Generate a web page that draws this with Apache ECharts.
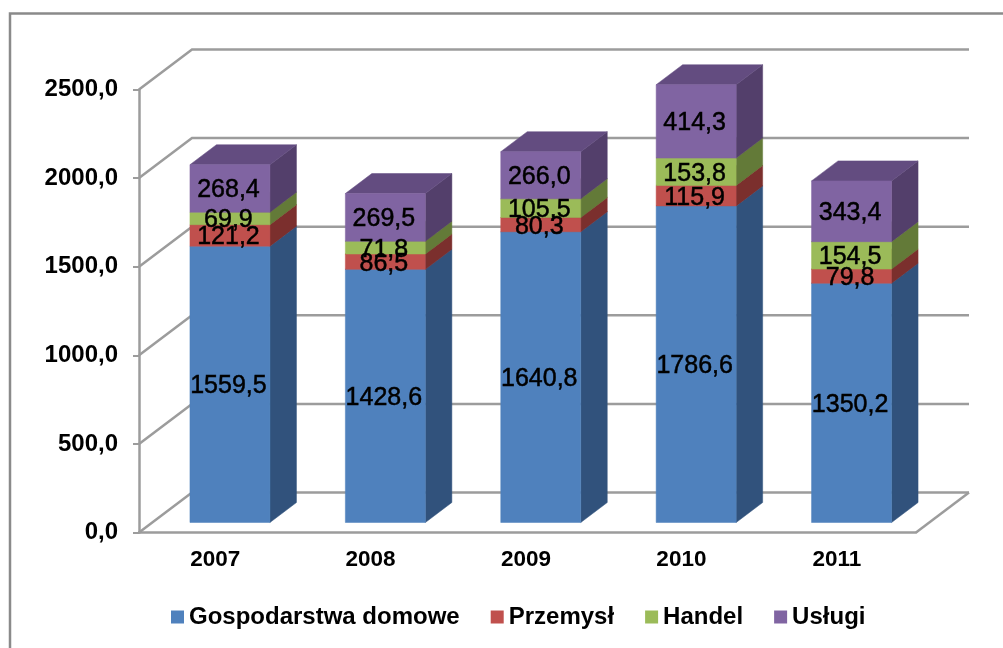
<!DOCTYPE html>
<html><head><meta charset="utf-8">
<style>html,body{margin:0;padding:0;background:#fff;overflow:hidden}#c{width:1003px;height:648px;filter:blur(0.5px)}</style>
<script src="https://cdn.jsdelivr.net/npm/echarts@6/dist/echarts.min.js"></script>
</head><body><div id="c"></div>
<script>
const categories = ['2007','2008','2009','2010','2011'];
const gospodarstwa = [1559.5,1428.6,1640.8,1786.6,1350.2];
const przemysl = [121.2,86.5,80.3,115.9,79.8];
const handel = [69.9,71.8,105.5,153.8,154.5];
const uslugi = [268.4,269.5,266.0,414.3,343.4];
const yTicks = [0,500,1000,1500,2000,2500];
const seriesNames = ['Gospodarstwa domowe','Przemysł','Handel','Usługi'];
const seriesValues = [gospodarstwa,przemysl,handel,uslugi];
const front = ['#4f81bd','#c0504d','#9bbb59','#8064a2'];
const side = ['#31527c','#7b2f2d','#637a38','#533f6b'];
const topFace = ['#3c6496','#953d3a','#7a9346','#634c80'];

const DX = 53, DY = 40;           // depth of the 3D box
const BAR_FRAC = 80/155.4;        // bar width / category band
const fmt = v => v.toFixed(1).replace('.',',');
const GRID_COLOR = '#9c9c9c';
const FONT = '"Liberation Sans", Arial, sans-serif';

const chart = echarts.init(document.getElementById('c'), null, {renderer:'canvas'});

function line(pts){
  return {type:'polyline', shape:{points:pts}, style:{stroke:GRID_COLOR, lineWidth:2.5, fill:null}, silent:true};
}
function wallItem(params, api){
  const v = api.value(0);
  const c = params.coordSys;
  const y = api.coord([0, v])[1];
  const left = c.x, right = c.x + c.width;
  const kids = [line([[left,y],[left+DX,y-DY],[right+DX,y-DY]])];
  if (v === 0) kids.push(line([[right,y],[right+DX,y-DY]]));
  return {type:'group', children:kids};
}
function barItem(si){
  return function(params, api){
    const i = api.value(0), lo = api.value(1), hi = api.value(2), raw = api.value(3);
    const band = api.size([1,0])[0];
    const w = band*BAR_FRAC;
    const ox = DX/4, oy = DY/4;
    const p0 = api.coord([i,lo]), p1 = api.coord([i,hi]);
    const x0 = p0[0]+ox-w/2, x1 = x0+w;
    const yb = p0[1]-oy, yt = p1[1]-oy;
    const dx = DX/2, dy = DY/2;
    const poly = (pts,fill)=>({type:'polygon',shape:{points:pts},style:{fill,stroke:fill,lineWidth:0.5}});
    return {type:'group',children:[
      poly([[x1,yb],[x1+dx,yb-dy],[x1+dx,yt-dy],[x1,yt]], side[si]),
      poly([[x0,yt],[x0+dx,yt-dy],[x1+dx,yt-dy],[x1,yt]], topFace[si]),
      poly([[x0,yb],[x1,yb],[x1,yt],[x0,yt]], front[si]),
      {type:'text',z2:100,style:{x:(x0+x1)/2-1.5,y:(yb+yt)/2+2,text:fmt(raw),align:'center',verticalAlign:'middle',
        fill:'#000',font:'25px '+FONT,stroke:'#000',lineWidth:0.5}}
    ]};
  };
}
const bars = seriesNames.map((name,si)=>{
  const data = categories.map((_,i)=>{
    let lo = 0;
    for(let k=0;k<si;k++) lo += seriesValues[k][i];
    return [i, lo, lo+seriesValues[si][i], seriesValues[si][i]];
  });
  return {type:'custom',name,data,renderItem:barItem(si),itemStyle:{color:front[si]},
    encode:{x:0,y:2},silent:true,z:3,clip:false};
});
chart.setOption({
  animation:false,
  backgroundColor:'#fff',
  grid:{left:139,top:89.5,width:777,height:443},
  xAxis:{type:'category',data:categories,
    axisLine:{lineStyle:{color:GRID_COLOR,width:2.5}},axisTick:{show:false},
    axisLabel:{color:'#000',fontFamily:FONT,fontWeight:'bold',fontSize:22.5,margin:16,padding:[0,3,0,0]}},
  yAxis:{type:'value',min:0,max:2500,interval:500,
    axisLine:{show:true,lineStyle:{color:GRID_COLOR,width:2.5}},
    axisTick:{show:true,length:6,lineStyle:{color:GRID_COLOR,width:2}},
    splitLine:{show:false},
    axisLabel:{color:'#000',fontFamily:FONT,fontWeight:'bold',fontSize:24,margin:21,formatter:v=>fmt(v)}},
  legend:{data:seriesNames,left:171,top:605,padding:0,icon:'rect',itemWidth:13,itemHeight:13,itemGap:31,
    textStyle:{color:'#000',fontFamily:FONT,fontWeight:'bold',fontSize:24}},
  graphic:[{type:'polyline',shape:{points:[[10,648],[10,13.5],[1003,13.5]]},
    style:{stroke:'#8a8a8a',lineWidth:2.5,fill:null},silent:true}],
  series:[{type:'custom',name:'walls',data:yTicks.map(v=>[v]),renderItem:wallItem,
    encode:{y:0},silent:true,z:1,clip:false},...bars]
});
</script></body></html>
